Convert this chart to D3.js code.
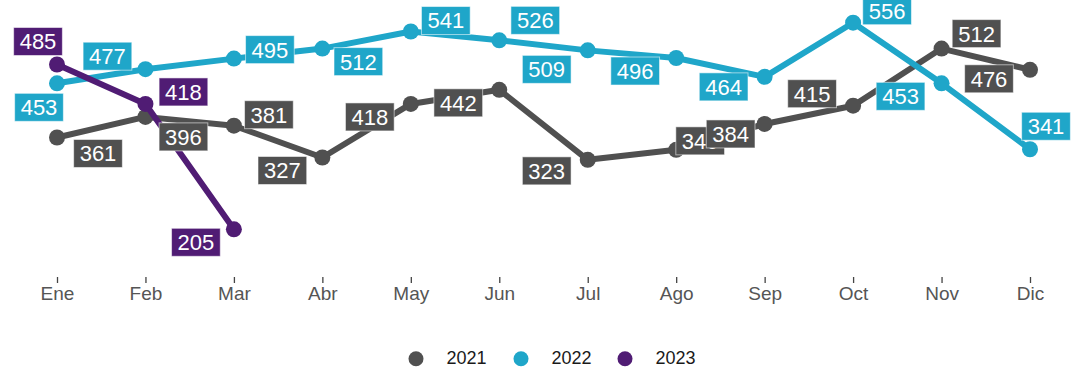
<!DOCTYPE html>
<html>
<head>
<meta charset="utf-8">
<script src="https://cdn.jsdelivr.net/npm/d3@7"></script>
<style>
  html, body { margin: 0; padding: 0; background: #fff; }
  svg { display: block; font-family: "Liberation Sans", Arial, sans-serif; }
</style>
</head>
<body>
<svg id="chart" width="1081" height="373"></svg>
<script>
// Monthly values per year
const months = ["Ene", "Feb", "Mar", "Abr", "May", "Jun", "Jul", "Ago", "Sep", "Oct", "Nov", "Dic"];
const years = ["2021", "2022", "2023"];
const values2021 = [361, 396, 381, 327, 418, 442, 323, 340, 384, 415, 512, 476];
const values2022 = [453, 477, 495, 512, 541, 526, 509, 496, 464, 556, 453, 341];
const values2023 = [485, 418, 205];

const colors = { "2021": "#505050", "2022": "#1fa6c9", "2023": "#501c74" };

// Where each value label box sits relative to its point (box centre offset)
const labelOffsets = {
  "2021": [[41, 16], [38, 20], [35, -11], [-40, 13], [-41, 13], [-41, 13], [-41, 11], [24, -9], [-34, 10], [-41, -12], [35, -15], [-41, 9]],
  "2022": [[-18, 24], [-38, -13], [36, -9], [36, 13], [35, -11], [36, -20], [-41, 19], [-41, 13], [-41, 10], [34, -12], [-41, 13], [16, -23]],
  "2023": [[-19, -23], [38, -12], [-38, 13]]
};

const series = [
  { year: "2021", values: values2021 },
  { year: "2022", values: values2022 },
  { year: "2023", values: values2023 }
];

const svg = d3.select("#chart");

const x = d3.scalePoint().domain(months).range([57, 1030]);
const allValues = values2021.concat(values2022, values2023);
const y = d3.scaleLinear().domain(d3.extent(allValues)).range([229.3, 22.7]);

// x axis: ticks and month names only
const xAxis = d3.axisBottom(x).tickSize(6).tickPadding(4);
const gx = svg.append("g").attr("transform", "translate(0,277)").call(xAxis);
gx.select(".domain").remove();
gx.selectAll(".tick line").attr("stroke", "#444").attr("stroke-width", 1.3);
gx.selectAll(".tick text")
  .attr("fill", "#555")
  .style("font-size", "19px")
  .style("font-family", "'Liberation Sans', Arial, sans-serif");

const line = d3.line()
  .x((d, i) => x(months[i]))
  .y(d => y(d));

// lines and points
series.forEach(s => {
  const g = svg.append("g");
  g.append("path")
    .datum(s.values)
    .attr("d", line)
    .attr("fill", "none")
    .attr("stroke", colors[s.year])
    .attr("stroke-width", 6)
    .attr("stroke-linejoin", "round");
  g.selectAll("circle")
    .data(s.values)
    .join("circle")
    .attr("cx", (d, i) => x(months[i]))
    .attr("cy", d => y(d))
    .attr("r", 8)
    .attr("fill", colors[s.year]);
});

// value labels on coloured boxes
const boxH = 28, padX = 6;
series.forEach(s => {
  const g = svg.append("g");
  s.values.forEach((v, i) => {
    const off = labelOffsets[s.year][i];
    const cx = x(months[i]) + off[0];
    const cy = y(v) + off[1];
    const lg = g.append("g").attr("transform", `translate(${cx},${cy})`);
    const rect = lg.append("rect")
      .attr("fill", colors[s.year])
      .attr("stroke", "rgba(255,255,255,0.55)")
      .attr("stroke-width", 1);
    const t = lg.append("text")
      .attr("text-anchor", "middle")
      .attr("dy", "0.36em")
      .attr("fill", "#fff")
      .style("font-size", "22px")
      .text(v);
    const w = t.node().getComputedTextLength() + padX * 2;
    rect.attr("x", -w / 2).attr("y", -boxH / 2).attr("width", w).attr("height", boxH);
  });
});

// legend
const legendX = [416, 521, 625];
const legend = svg.append("g");
years.forEach((yr, i) => {
  legend.append("circle")
    .attr("cx", legendX[i])
    .attr("cy", 358.7)
    .attr("r", 7.5)
    .attr("fill", colors[yr]);
  legend.append("text")
    .attr("x", legendX[i] + 30.5)
    .attr("y", 364.3)
    .attr("fill", "#1a1a1a")
    .style("font-size", "18px")
    .text(yr);
});
</script>
</body>
</html>
